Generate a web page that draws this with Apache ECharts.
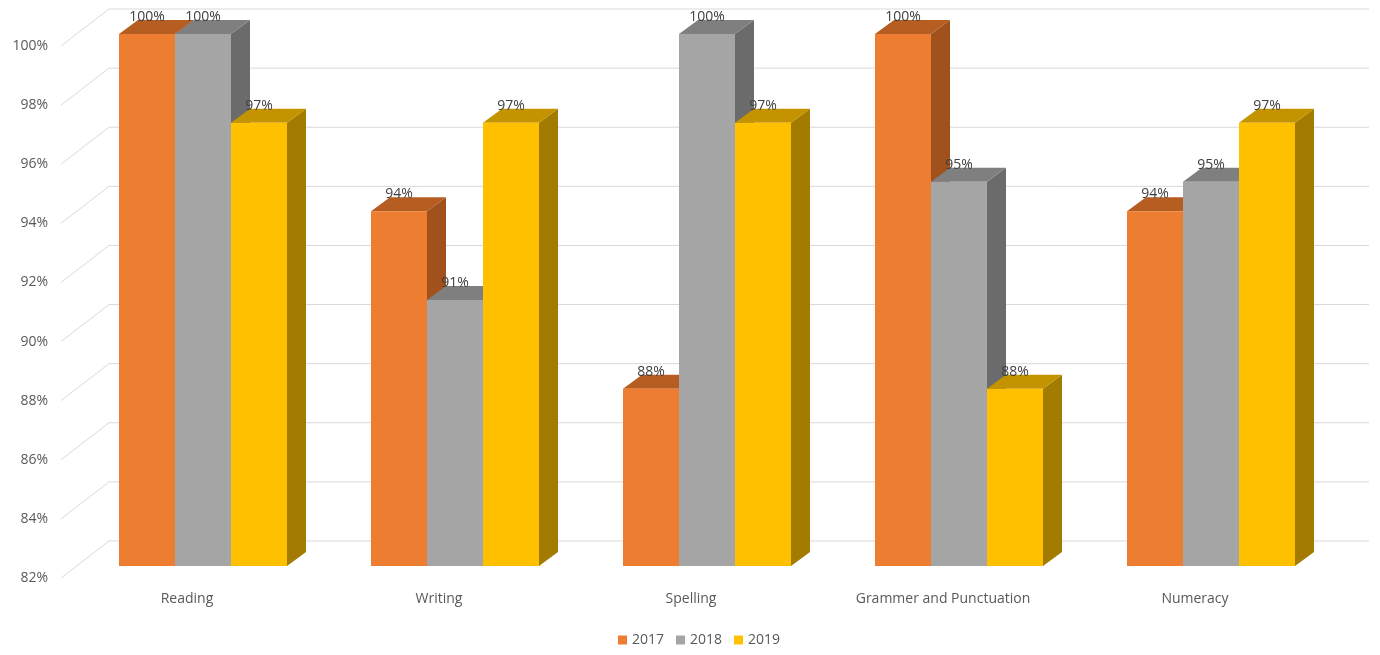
<!DOCTYPE html>
<html>
<head>
<meta charset="utf-8">
<title>Results 2017-2019</title>
<script src="https://cdn.jsdelivr.net/npm/echarts@6/dist/echarts.min.js"></script>
<style>
    html, body { margin: 0; padding: 0; background: #fff; }
    #chart { width: 1380px; height: 655px; }
</style>
</head>
<body>
<div id="chart"></div>
<script>
    // data
    var categories = ['Reading', 'Writing', 'Spelling', 'Grammer and Punctuation', 'Numeracy'];
    var years = ['2017', '2018', '2019'];
    var y2017 = [100, 94, 88, 100, 94];
    var y2018 = [100, 91, 100, 95, 95];
    var y2019 = [97, 97, 97, 88, 97];
    var yMin = 82, yMax = 100, yStep = 2;

    // faces: front / top / side
    var palette = [
        { front: '#ED7D31', top: '#B65D22', side: '#A0511C' },
        { front: '#A5A5A5', top: '#7F7F7F', side: '#6B6B6B' },
        { front: '#FFC000', top: '#C49400', side: '#A37B00' }
    ];

    // fake 3d offsets (px)
    var WALL_DX = 48, WALL_DY = -37;    // floor front -> back wall
    var FRONT_DX = 16, FRONT_DY = -12;  // floor front -> bar front
    var DEPTH_DX = 19, DEPTH_DY = -14;  // bar depth

    var ticks = [];
    for (var t = yMin; t <= yMax; t += yStep) ticks.push(t);

    function gridRender(params, api) {
        var cs = params.coordSys;
        var y = api.coord([0, api.value(0)])[1];
        return {
            type: 'polyline',
            shape: {
                points: [
                    [cs.x, y],
                    [cs.x + WALL_DX, y + WALL_DY],
                    [cs.x + cs.width + WALL_DX, y + WALL_DY]
                ]
            },
            style: { stroke: '#D9D9D9', lineWidth: 1, fill: null },
            silent: true
        };
    }

    function barRender(idx) {
        var c = palette[idx];
        return function (params, api) {
            var ci = api.value(0), v = api.value(1);
            var base = api.coord([ci, yMin]);
            var top = api.coord([ci, v]);
            var bw = api.size([1, 0])[0];
            var w = bw * 2 / 9;
            var x0 = base[0] - bw / 3 + idx * w + FRONT_DX;
            var yb = base[1] + FRONT_DY;
            var yt = top[1] + FRONT_DY;
            return {
                type: 'group',
                children: [
                    {
                        type: 'polygon',
                        shape: { points: [[x0 + w, yt], [x0 + w + DEPTH_DX, yt + DEPTH_DY], [x0 + w + DEPTH_DX, yb + DEPTH_DY], [x0 + w, yb]] },
                        style: { fill: c.side }
                    },
                    {
                        type: 'polygon',
                        shape: { points: [[x0, yt], [x0 + w, yt], [x0 + w + DEPTH_DX, yt + DEPTH_DY], [x0 + DEPTH_DX, yt + DEPTH_DY]] },
                        style: { fill: c.top }
                    },
                    {
                        type: 'rect',
                        shape: { x: x0, y: yt, width: w, height: yb - yt },
                        style: { fill: c.front }
                    },
                    {
                        type: 'text',
                        x: x0 + w / 2,
                        y: yt - 10,
                        style: {
                            text: v + '%',
                            fill: '#404040',
                            font: '14px "Open Sans", sans-serif',
                            align: 'center',
                            verticalAlign: 'bottom'
                        }
                    }
                ]
            };
        };
    }

    var yearData = [y2017, y2018, y2019];
    var series = [{
        type: 'custom',
        name: 'grid',
        renderItem: gridRender,
        data: ticks.map(function (t) { return [t]; }),
        encode: { y: 0 },
        silent: true
    }];
    years.forEach(function (yr, i) {
        series.push({
            type: 'custom',
            name: yr,
            renderItem: barRender(i),
            itemStyle: { color: palette[i].front },
            data: categories.map(function (cat, k) { return [k, yearData[i][k]]; }),
            encode: { x: 0, y: 1 }
        });
    });

    var chart = echarts.init(document.getElementById('chart'));
    chart.setOption({
        animation: false,
        backgroundColor: '#fff',
        textStyle: { fontFamily: '"Open Sans", sans-serif' },
        grid: { left: 61, right: 59, top: 46, bottom: 77 },
        legend: {
            data: years,
            top: 628,
            left: 613,
            icon: 'rect',
            itemWidth: 9,
            itemHeight: 9,
            itemGap: 12,
            textStyle: { color: '#595959', fontSize: 14 }
        },
        xAxis: {
            type: 'category',
            data: categories,
            axisLine: { show: false },
            axisTick: { show: false },
            axisLabel: { color: '#595959', fontSize: 14, margin: 14 },
            splitLine: { show: false }
        },
        yAxis: {
            type: 'value',
            min: yMin,
            max: yMax,
            interval: yStep,
            axisLine: { show: false },
            axisTick: { show: false },
            splitLine: { show: false },
            axisLabel: {
                color: '#595959',
                fontSize: 14,
                margin: 13,
                formatter: function (v) { return v + '%'; }
            }
        },
        series: series
    });
</script>
</body>
</html>
